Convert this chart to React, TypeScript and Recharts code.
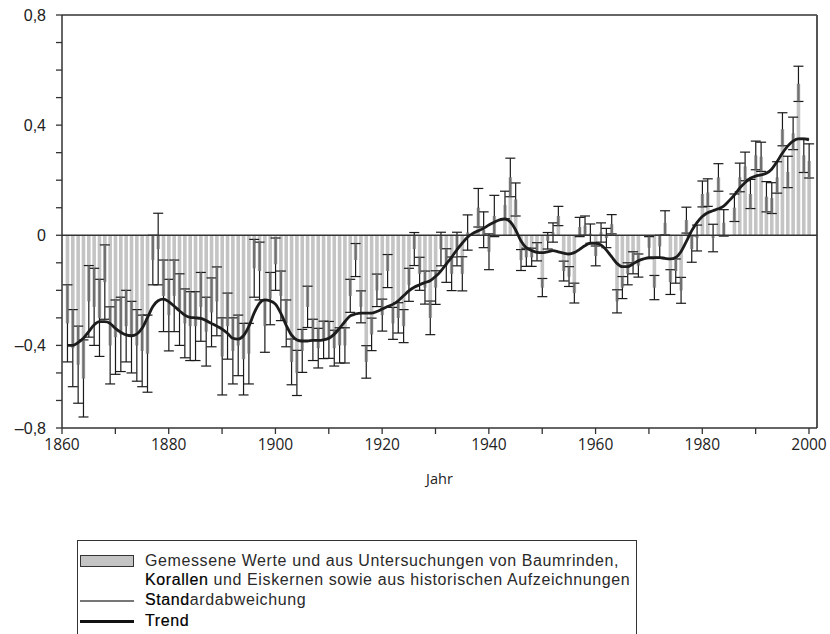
import React from "react";
import { ComposedChart, Bar, Line, XAxis, YAxis, ErrorBar, ReferenceLine, Label } from "recharts";

const firstYear = 1861;

const anomaly = [
  -0.32, -0.41, -0.47, -0.52, -0.24, -0.26, -0.30, -0.17, -0.40, -0.37,
  -0.36, -0.33, -0.37, -0.40, -0.42, -0.43, -0.09, -0.05, -0.22, -0.29,
  -0.22, -0.27, -0.32, -0.33, -0.33, -0.26, -0.35, -0.28, -0.24, -0.44,
  -0.33, -0.42, -0.40, -0.45, -0.43, -0.12, -0.13, -0.33, -0.23, -0.105,
  -0.22, -0.32, -0.46, -0.50, -0.42, -0.26, -0.38, -0.41, -0.38, -0.38,
  -0.41, -0.40, -0.40, -0.22, -0.09, -0.26, -0.46, -0.36, -0.20, -0.29,
  -0.13, -0.32, -0.30, -0.33, -0.18, -0.05, -0.14, -0.19, -0.30, -0.19,
  -0.05, -0.11, -0.14, -0.05, -0.14, 0.01, 0.0, 0.10, 0.02, -0.06,
  0.07, 0.0, 0.11, 0.21, 0.13, -0.09, -0.08, -0.08, -0.06, -0.19,
  -0.02, 0.01, 0.07, -0.13, -0.15, -0.21, 0.03, 0.035, 0.006, -0.075,
  0.01, -0.01, 0.04, -0.24, -0.19, -0.14, -0.10, -0.11, 0.0, -0.045,
  -0.19, -0.04, 0.045, -0.17, -0.13, -0.20, 0.055, -0.05, -0.01, 0.15,
  0.155, -0.01, 0.21, 0.045, 0.0, 0.10, 0.21, 0.25, 0.15, 0.29,
  0.285, 0.14, 0.135, 0.21, 0.385, 0.23, 0.37, 0.55, 0.29, 0.27,
];

const uncertainty = [
  0.14, 0.14, 0.14, 0.14, 0.13, 0.14, 0.14, 0.135, 0.14, 0.135,
  0.135, 0.13, 0.13, 0.13, 0.13, 0.14, 0.09, 0.13, 0.13, 0.13,
  0.13, 0.13, 0.125, 0.125, 0.125, 0.125, 0.125, 0.125, 0.125, 0.14,
  0.12, 0.12, 0.11, 0.13, 0.11, 0.105, 0.105, 0.095, 0.095, 0.095,
  0.09, 0.085, 0.083, 0.082, 0.078, 0.075, 0.075, 0.072, 0.068, 0.067,
  0.065, 0.064, 0.064, 0.06, 0.06, 0.058, 0.059, 0.059, 0.059, 0.058,
  0.06, 0.058, 0.055, 0.06, 0.06, 0.06, 0.06, 0.06, 0.061, 0.061,
  0.061, 0.061, 0.061, 0.061, 0.062, 0.064, 0.064, 0.07, 0.065, 0.065,
  0.075, 0.05, 0.05, 0.07, 0.06, 0.038, 0.033, 0.033, 0.033, 0.033,
  0.03, 0.035, 0.035, 0.036, 0.036, 0.036, 0.035, 0.035, 0.035, 0.036,
  0.035, 0.035, 0.035, 0.042, 0.04, 0.04, 0.04, 0.042, 0.041, 0.04,
  0.044, 0.04, 0.044, 0.045, 0.044, 0.047, 0.047, 0.048, 0.047, 0.047,
  0.05, 0.05, 0.05, 0.048, 0.051, 0.05, 0.052, 0.052, 0.053, 0.052,
  0.053, 0.055, 0.056, 0.057, 0.06, 0.057, 0.059, 0.064, 0.062, 0.062,
];

const trend = [
  -0.40, -0.40, -0.39, -0.374, -0.35, -0.326, -0.314, -0.314, -0.32, -0.338,
  -0.352, -0.362, -0.365, -0.359, -0.338, -0.30, -0.26, -0.238, -0.232, -0.241,
  -0.257, -0.274, -0.29, -0.298, -0.30, -0.302, -0.31, -0.32, -0.33, -0.341,
  -0.356, -0.374, -0.377, -0.365, -0.332, -0.283, -0.247, -0.235, -0.238, -0.25,
  -0.283, -0.326, -0.362, -0.38, -0.384, -0.384, -0.382, -0.382, -0.38, -0.374,
  -0.36, -0.338, -0.314, -0.293, -0.286, -0.283, -0.283, -0.283, -0.277, -0.268,
  -0.259, -0.251, -0.238, -0.22, -0.202, -0.189, -0.18, -0.172, -0.165, -0.15,
  -0.13, -0.105, -0.08, -0.053, -0.029, -0.007, 0.007, 0.016, 0.025, 0.037,
  0.047, 0.056, 0.059, 0.049, 0.02, -0.02, -0.045, -0.055, -0.062, -0.063,
  -0.06, -0.056, -0.06, -0.065, -0.068, -0.063, -0.051, -0.038, -0.029, -0.029,
  -0.035, -0.053, -0.078, -0.102, -0.114, -0.114, -0.104, -0.093, -0.086, -0.081,
  -0.081, -0.081, -0.084, -0.086, -0.081, -0.06, -0.023, 0.016, 0.046, 0.068,
  0.082, 0.089, 0.096, 0.106, 0.125, 0.146, 0.171, 0.191, 0.207, 0.215,
  0.219, 0.225, 0.24, 0.267, 0.298, 0.324, 0.342, 0.35, 0.35, 0.346,
];

const xTicks = [1860, 1870, 1880, 1890, 1900, 1910, 1920, 1930, 1940, 1950, 1960, 1970, 1980, 1990, 2000];
const xLabelled = [1860, 1880, 1900, 1920, 1940, 1960, 1980, 2000];
const yTicks = [-0.7, -0.6, -0.5, -0.4, -0.3, -0.2, -0.1, 0, 0.1, 0.2, 0.3, 0.4, 0.5, 0.6, 0.7, 0.8];
const yLabels: Record<string, string> = {
  "0.8": "0,8",
  "0.4": "0,4",
  "0.0": "0",
  "-0.4": "\u20130,4",
  "-0.7": "\u20130,8",
};

const legendTexts = {
  bars1: "Gemessene Werte und aus Untersuchungen von Baumrinden,",
  bars2a: "Korallen",
  bars2b: " und Eiskernen sowie aus historischen Aufzeichnungen",
  sdA: "Stand",
  sdB: "ardabweichung",
  trend: "Trend",
};

const data = anomaly.map((v, i) => {
  const e = uncertainty[i];
  return {
    year: firstYear + i,
    value: v,
    err: e,
    inner: v >= 0 ? [Math.min(e, v), 0] : [0, Math.min(e, -v)],
    trend: trend[i],
  };
});

const FONT = "'Open Sans', 'Noto Sans', sans-serif";
const LEGEND_FONT = "'Liberation Sans', Arial, sans-serif";
const strong: React.CSSProperties = { color: "#000", WebkitTextStroke: "0.2px #000" };

export default function App() {
  return (
    <div style={{ position: "absolute", left: 0, top: 0, width: 830, height: 634, overflow: "hidden", background: "#fff" }}>
      <ComposedChart width={830} height={493} data={data} margin={{ top: 15, right: 13, bottom: 0, left: 0 }}>
        <XAxis
          dataKey="year"
          type="number"
          domain={[1860, 2001.5]}
          ticks={xTicks}
          interval={0}
          allowDataOverflow
          height={65}
          tickSize={6}
          tickMargin={5}
          axisLine={{ stroke: "#333", strokeWidth: 1.5 }}
          tickLine={{ stroke: "#333", strokeWidth: 1.3 }}
          tick={{ fill: "#222", fontSize: 15.5, fontFamily: FONT }}
          tickFormatter={(v: number) => (xLabelled.includes(v) ? String(v) : "")}
        >
          <Label value="Jahr" position="insideBottom" offset={9} style={{ fill: "#222", fontSize: 14.5, fontFamily: FONT }} />
        </XAxis>
        <YAxis
          type="number"
          domain={[-0.7, 0.8]}
          ticks={yTicks}
          interval={0}
          allowDataOverflow
          width={62}
          tickSize={6}
          tickMargin={10}
          axisLine={{ stroke: "#333", strokeWidth: 1.5 }}
          tickLine={{ stroke: "#333", strokeWidth: 1.3 }}
          tick={{ fill: "#222", fontSize: 16, fontFamily: "'Liberation Sans', Arial, sans-serif" }}
          tickFormatter={(v: number) => yLabels[v.toFixed(1)] ?? ""}
        />
        <ReferenceLine y={0.8} stroke="#333" strokeWidth={1.5} />
        <ReferenceLine x={2001.5} stroke="#555" strokeWidth={2} />
        <Bar dataKey="value" fill="#c4c4c4" barSize={3.6} isAnimationActive={false}>
          <ErrorBar dataKey="err" width={5} stroke="#1a1a1a" strokeWidth={1.2} isAnimationActive={false} />
          <ErrorBar dataKey="inner" width={0} stroke="#707070" strokeWidth={2.2} isAnimationActive={false} />
        </Bar>
        <ReferenceLine y={0} stroke="#333" strokeWidth={1.3} />
        <Line dataKey="trend" type="monotone" stroke="#1c1c1c" strokeWidth={2.8} dot={false} isAnimationActive={false} />
      </ComposedChart>
      <div
        style={{
          position: "absolute",
          left: 77,
          top: 540,
          width: 558,
          height: 130,
          border: "1.5px solid #333",
          fontFamily: LEGEND_FONT,
          fontSize: 16,
          letterSpacing: "0.6px",
          color: "#2a2a2a",
          lineHeight: "18px",
        }}
      >
        <div style={{ position: "absolute", left: 2, top: 14, width: 54, height: 12, background: "#c4c4c4", border: "1px solid #333", boxSizing: "border-box" }} />
        <div style={{ position: "absolute", left: 67, top: 11, whiteSpace: "nowrap" }}>{legendTexts.bars1}</div>
        <div style={{ position: "absolute", left: 67, top: 30, whiteSpace: "nowrap" }}>
          <span style={strong}>{legendTexts.bars2a}</span>
          {legendTexts.bars2b}
        </div>
        <div style={{ position: "absolute", left: 2, top: 59, width: 54, height: 2, background: "#777" }} />
        <div style={{ position: "absolute", left: 67, top: 50, whiteSpace: "nowrap" }}>
          <span style={strong}>{legendTexts.sdA}</span>
          {legendTexts.sdB}
        </div>
        <div style={{ position: "absolute", left: 2, top: 79, width: 54, height: 3, background: "#111" }} />
        <div style={{ position: "absolute", left: 67, top: 71, whiteSpace: "nowrap", ...strong }}>
          {legendTexts.trend}
        </div>
      </div>
    </div>
  );
}
